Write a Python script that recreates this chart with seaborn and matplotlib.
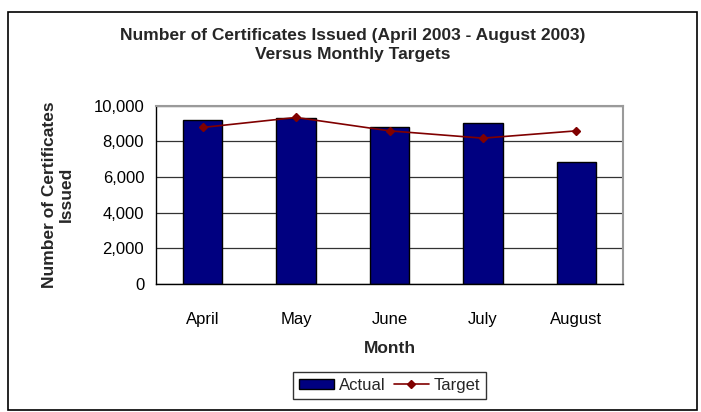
import matplotlib
matplotlib.use("Agg")
import matplotlib.pyplot as plt
import matplotlib.ticker as mticker
from matplotlib.patches import Rectangle
import pandas as pd
import seaborn as sns

months = ["April", "May", "June", "July", "August"]
actual = [9200, 9290, 8770, 9000, 6810]
target = [8770, 9330, 8580, 8170, 8580]

df = pd.DataFrame({"Month": months, "Actual": actual, "Target": target})

W, H = 701, 412

sns.set_theme(style="white")
plt.rcParams["font.family"] = ["Liberation Sans", "DejaVu Sans"]

fig = plt.figure(figsize=(W / 100, H / 100), dpi=100)
# plot area: x 156..623, y 105.5..284 (pixels)
ax = fig.add_axes([156 / W, 1 - 284 / H, 467 / W, 178.5 / H])

sns.barplot(data=df, x="Month", y="Actual", color="#000080", width=0.42,
            edgecolor="black", linewidth=1.0, saturation=1, ax=ax, label="Actual", zorder=2)
ax.plot(df["Month"], df["Target"], color="#800000", linewidth=1.2,
        marker="D", markersize=4, label="Target", zorder=3)
if ax.get_legend() is not None:
    ax.get_legend().remove()

ax.set_ylim(0, 10000)
ax.set_xlim(-0.5, 4.5)
ax.yaxis.set_major_locator(mticker.MultipleLocator(2000))
ax.yaxis.set_major_formatter(mticker.FuncFormatter(lambda v, p: f"{int(v):,}"))
ax.xaxis.set_minor_locator(mticker.FixedLocator([i - 0.5 for i in range(len(months) + 1)]))
ax.yaxis.grid(True, color="#333333", linewidth=0.9, zorder=0)
ax.set_axisbelow(True)
for side in ["top", "right"]:
    ax.spines[side].set_color("#9a9a9a")
    ax.spines[side].set_linewidth(1.5)
for side in ["left", "bottom"]:
    ax.spines[side].set_color("black")
    ax.spines[side].set_linewidth(1)
ax.tick_params(axis="y", labelsize=12, colors="black", direction="inout",
               length=9, width=1, pad=4)
ax.tick_params(axis="x", which="major", labelsize=12, colors="black", length=0, pad=20)
ax.tick_params(axis="x", which="minor", direction="out", length=5, width=1, color="black")

ax.set_xlabel("Month", fontsize=12.5, fontweight="bold", labelpad=10)
ax.set_ylabel("Number of Certificates\nIssued", fontsize=12.5, fontweight="bold",
              labelpad=14, linespacing=1.2)

fig.text(353 / W, 1 - 28 / H,
         "Number of Certificates Issued (April 2003 - August 2003)\nVersus Monthly Targets",
         ha="center", va="top", fontsize=12.5, fontweight="bold", linespacing=1.35)

handles, labels = ax.get_legend_handles_labels()
order = [labels.index("Actual"), labels.index("Target")]
fig.legend([handles[i] for i in order], [labels[i] for i in order],
           loc="upper left", bbox_to_anchor=(293 / W, 1 - 372 / H), ncol=2, frameon=True,
           fancybox=False, edgecolor="black", fontsize=12, handlelength=2.1,
           handleheight=0.6, columnspacing=0.5, handletextpad=0.3, borderpad=0.35,
           borderaxespad=0)

fig.patches.append(Rectangle((8 / W, 2 / H), 689 / W, 398 / H, transform=fig.transFigure,
                             fill=False, edgecolor="black", linewidth=1.2))

fig.savefig("out.png", dpi=100)
